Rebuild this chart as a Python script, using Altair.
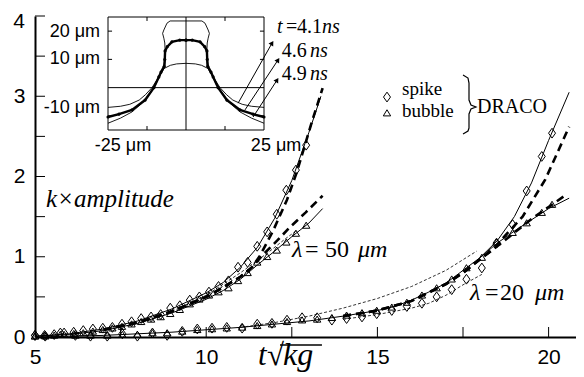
import altair as alt
import pandas as pd

# ---------------- main data (x = t*sqrt(kg), y = k*amplitude) ----------------
# lambda = 50 um : DRACO markers
l50_x = [5.0, 5.28, 5.56, 5.85, 6.13, 6.41, 6.69, 6.98, 7.26, 7.54, 7.82, 8.1, 8.39, 8.67, 8.95,
         9.23, 9.52, 9.8, 10.08, 10.36, 10.65, 10.93, 11.21, 11.49, 11.78, 12.06, 12.34, 12.62, 12.92]
l50_spike = [0.02, 0.02, 0.03, 0.05, 0.06, 0.08, 0.1, 0.11, 0.12, 0.16, 0.19, 0.23, 0.25, 0.28, 0.36,
             0.39, 0.46, 0.5, 0.56, 0.63, 0.7, 0.87, 0.93, 1.13, 1.31, 1.53, 1.83, 2.08, 2.39]
l50_bubble = [0.01, 0.02, 0.02, 0.03, 0.04, 0.05, 0.07, 0.09, 0.11, 0.13, 0.16, 0.19, 0.22, 0.25, 0.29,
              0.34, 0.41, 0.47, 0.52, 0.56, 0.61, 0.7, 0.8, 0.93, 1.0, 1.08, 1.18, 1.29, 1.39]
# lambda = 50 um : model curves
l50_spike_solid_x = [5, 6, 7, 8, 9, 10, 10.5, 11, 11.5, 12, 12.5, 13, 13.35]
l50_spike_solid_y = [0.01, 0.04, 0.1, 0.2, 0.35, 0.55, 0.68, 0.87, 1.12, 1.48, 1.95, 2.55, 3.0]
l50_spike_dash_x = [7, 8, 9, 10, 10.5, 11, 11.34, 11.58, 11.95, 12.36, 12.65, 13.1, 13.4]
l50_spike_dash_y = [0.09, 0.18, 0.32, 0.5, 0.62, 0.75, 0.87, 1.02, 1.32, 1.71, 2.06, 2.7, 3.1]
l50_bubble_solid_x = [5, 6, 7, 8, 9, 10, 10.5, 11, 11.5, 12, 12.5, 13, 13.4]
l50_bubble_solid_y = [0.01, 0.03, 0.08, 0.17, 0.3, 0.47, 0.58, 0.72, 0.9, 1.07, 1.25, 1.42, 1.6]
l50_bubble_dash_x = [7, 8, 9, 10, 10.5, 11, 11.34, 11.67, 12.07, 12.45, 12.9, 13.4]
l50_bubble_dash_y = [0.09, 0.18, 0.32, 0.5, 0.62, 0.75, 0.87, 1.03, 1.2, 1.37, 1.55, 1.76]
l50_thin_x = [9, 10, 11, 11.8, 12.3, 12.65]
l50_thin_y = [0.32, 0.52, 0.8, 1.05, 1.22, 1.33]

# lambda = 20 um : DRACO markers
l20_x = [5.0, 5.3, 5.74, 6.18, 6.62, 7.11, 7.55, 7.99, 8.43, 8.86, 9.3, 9.74, 10.17, 10.6, 11.05,
         11.49, 11.92, 12.36, 12.8, 13.24, 13.67, 14.1, 14.55, 14.98, 15.42, 15.86, 16.3, 16.73,
         17.17, 17.6, 18.05, 18.48, 18.95, 19.36, 19.8, 20.1]
l20_spike = [0.02, 0.01, 0.05, 0.02, 0.01, 0.01, 0.04, 0.01, 0.05, 0.02, 0.07, 0.1, 0.11, 0.12, 0.11,
             0.16, 0.17, 0.21, 0.24, 0.24, 0.21, 0.23, 0.25, 0.29, 0.33, 0.38, 0.42, 0.5,
             0.59, 0.72, 0.86, 1.17, 1.4, 1.82, 2.25, 2.54]
l20_bubble = [0.01, 0.01, 0.03, 0.02, 0.02, 0.02, 0.03, 0.03, 0.05, 0.05, 0.07, 0.09, 0.1, 0.11, 0.12,
              0.14, 0.16, 0.19, 0.21, 0.22, 0.24, 0.27, 0.3, 0.33, 0.37, 0.43, 0.52, 0.61,
              0.72, 0.86, 0.99, 1.18, 1.3, 1.42, 1.55, 1.65]
# lambda = 20 um : model curves
l20_spike_solid_x = [5, 7, 9, 11, 12, 13, 14, 15, 15.5, 16, 16.5, 17, 17.5, 18, 18.5, 19, 19.5, 20, 20.6]
l20_spike_solid_y = [0.0, 0.02, 0.06, 0.12, 0.16, 0.2, 0.26, 0.33, 0.38, 0.46, 0.56, 0.67, 0.83, 0.99,
                     1.2, 1.5, 1.92, 2.45, 3.05]
l20_bubble_solid_x = [18, 18.5, 19, 19.5, 20, 20.6]
l20_bubble_solid_y = [0.99, 1.17, 1.32, 1.46, 1.6, 1.73]
l20_spike_dash_x = [14, 15, 16, 17, 17.5, 18, 18.4, 18.66, 19.24, 19.9, 20.6]
l20_spike_dash_y = [0.26, 0.33, 0.45, 0.66, 0.8, 0.97, 1.1, 1.23, 1.5, 1.96, 2.62]
l20_bubble_dash_x = [14, 15, 16, 17, 17.5, 18, 18.5, 19, 19.5, 20, 20.5]
l20_bubble_dash_y = [0.26, 0.33, 0.45, 0.66, 0.8, 0.97, 1.13, 1.3, 1.47, 1.62, 1.77]
l20_thin_up_x = [11, 12, 13, 14, 15, 16, 17, 17.9]
l20_thin_up_y = [0.12, 0.18, 0.26, 0.36, 0.48, 0.63, 0.83, 1.07]
l20_thin_lo_x = [14, 15, 16, 16.5, 17, 17.5, 18.05]
l20_thin_lo_y = [0.22, 0.28, 0.36, 0.42, 0.52, 0.65, 0.78]

# axis ticks / labels
x_labels = [5, 10, 15, 20]
x_ticks = [7.5, 10, 12.5, 15, 17.5, 20]
y_labels = [0, 1, 2, 3]
y_top_label = "4"
y_ticks = [0.5, 1, 1.5, 2, 2.5, 3, 3.5, 4]

# ---------------- inset data (um) : right half of symmetric interface ----------------
inset_A_x = [0, 3, 5, 7, 8.7, 10.9, 13, 15, 18, 21, 25]                       # t = 4.1 ns
inset_A_y = [8.6, 8.4, 7.9, 6.8, 3.8, 0, -2.5, -4.4, -5.9, -6.6, -7]
inset_B_x = [0, 2, 4.5, 6, 6.7, 6.8, 7, 8, 8.7, 10.3, 13.1, 17.3, 21.5, 25]    # t = 4.6 ns
inset_B_y = [16.8, 16.8, 16.2, 14.5, 13, 10, 7.5, 5.5, 3.8, 0, -4.4, -7.9, -9.4, -10.4]
inset_C_x = [0, 5.1, 6.1, 7.1, 7.5, 7.1, 6.8, 6.6, 6.8, 8.3, 9.8, 11.4, 14.1, 17.3, 21, 25]  # t = 4.9 ns
inset_C_y = [23.6, 23.6, 22.8, 20.4, 19.2, 17.5, 15.8, 10.9, 7.3, 4.5, 0.9, -1.9, -5.5, -8.6, -10.8, -12.6]
inset_xlim = [-25, 25]
inset_ylim = [-15, 25]
inset_xticks = [-12.5, 12.5]
inset_yticks = [20, 10, -10]
arrow_x1 = [16.7, 18.9, 21.5]
arrow_y1 = [-5.5, -7.9, -10.4]
arrow_x2 = [27.6, 29.5, 29.2]
arrow_y2 = [15.8, 9.8, 2.7]

# ---------------- styling ----------------
SANS = "Liberation Sans"
SERIF = "Liberation Serif"
xs_main = alt.Scale(domain=[5, 20.8], nice=False, zero=False)
ys_main = alt.Scale(domain=[0, 4], nice=False, zero=False)
x_axis = alt.Axis(values=x_labels, ticks=False, grid=False, labelFlush=False, labelFont=SANS,
                  labelFontSize=21, labelColor="black", labelPadding=9, domainColor="black",
                  domainWidth=2, title=None, format="d")
y_axis = alt.Axis(values=y_labels, ticks=False, grid=False, labelFont=SANS, labelFontSize=21,
                  labelColor="black", labelPadding=10, domainColor="black", domainWidth=2,
                  title=None, format="d")


def X(f="x"):
    return alt.X(f + ":Q", scale=xs_main, axis=x_axis)


def Y(f="y"):
    return alt.Y(f + ":Q", scale=ys_main, axis=y_axis)


def line(xv, yv, width, dash=None):
    kw = dict(color="black", strokeWidth=width)
    if dash:
        kw["strokeDash"] = dash
    return alt.Chart(pd.DataFrame({"x": xv, "y": yv})).mark_line(**kw).encode(x=X(), y=Y())


DIAMOND = "M0,-1.4L1,0L0,1.4L-1,0Z"
TRIANGLE = "M0,-0.95L1.05,0.8L-1.05,0.8Z"


def markers(xv, yv, shape):
    return alt.Chart(pd.DataFrame({"x": xv, "y": yv})).mark_point(
        shape=shape, filled=False, stroke="black", strokeWidth=1, size=49, opacity=1
    ).encode(x=X(), y=Y())


def text(xv, yv, label, font=SERIF, size=20, style="normal", align="left", baseline="alphabetic"):
    return alt.Chart(pd.DataFrame({"x": [xv], "y": [yv], "t": [label]})).mark_text(
        font=font, fontSize=size, fontStyle=style, align=align, baseline=baseline, color="black"
    ).encode(x=X(), y=Y(), text="t:N")


THICK = [8, 5]
THIN = [3, 2]

layers = []
# model curves
layers += [
    line(l50_spike_solid_x, l50_spike_solid_y, 1),
    line(l50_bubble_solid_x, l50_bubble_solid_y, 1),
    line(l50_thin_x, l50_thin_y, 0.8, THIN),
    line(l50_spike_dash_x, l50_spike_dash_y, 2.6, THICK),
    line(l50_bubble_dash_x, l50_bubble_dash_y, 2.6, THICK),
    line(l20_spike_solid_x, l20_spike_solid_y, 1),
    line(l20_bubble_solid_x, l20_bubble_solid_y, 1),
    line(l20_thin_up_x, l20_thin_up_y, 0.8, THIN),
    line(l20_thin_lo_x, l20_thin_lo_y, 0.8, THIN),
    line(l20_spike_dash_x, l20_spike_dash_y, 2.6, THICK),
    line(l20_bubble_dash_x, l20_bubble_dash_y, 2.6, THICK),
]
# DRACO markers
layers += [
    markers(l50_x, l50_bubble, TRIANGLE),
    markers(l50_x, l50_spike, DIAMOND),
    markers(l20_x, l20_bubble, TRIANGLE),
    markers(l20_x, l20_spike, DIAMOND),
]
# inward axis ticks
layers.append(alt.Chart(pd.DataFrame({"y": y_ticks})).mark_rule(color="black", strokeWidth=1).encode(
    y=Y(), x=alt.value(0), x2=alt.value(10)))
layers.append(alt.Chart(pd.DataFrame({"x": x_ticks})).mark_rule(color="black", strokeWidth=1).encode(
    x=X(), y=alt.value(321), y2=alt.value(311)))

# annotations
layers += [
    text(4.708, 3.92, y_top_label, font=SANS, size=21, align="right", baseline="middle"),
    text(7.19, 1.62, "k×amplitude", size=25, style="italic", align="center"),
    # lambda = 50 um
    text(12.506, 0.997, "λ", size=24, style="italic"),
    text(12.886, 0.997, "=", size=24),
    text(13.47, 0.997, "50", size=24),
    text(14.433, 0.997, "μm", size=24, style="italic"),
    # lambda = 20 um
    text(17.704, 0.461, "λ", size=24, style="italic"),
    text(18.14, 0.461, "=", size=24),
    text(18.58, 0.461, "20", size=24),
    text(19.60, 0.461, "μm", size=24, style="italic"),
    # x-axis title  t sqrt(kg)
    text(11.513, -0.349, "t", size=31, style="italic"),
    text(11.776, -0.349, "√", size=31),
    text(12.243, -0.349, "kg", size=32, style="italic"),
    # inset time labels
    text(12.068, 3.788, "t", size=20, style="italic"),
    text(12.33, 3.788, "=", size=20),
    text(12.65, 3.788, "4.1", size=20),
    text(13.38, 3.788, "ns", size=20, style="italic"),
    text(12.21, 3.489, "4.6", size=20),
    text(13.03, 3.489, "ns", size=20, style="italic"),
    text(12.21, 3.202, "4.9", size=20),
    text(13.03, 3.202, "ns", size=20, style="italic"),
    # inset axis labels
    text(6.90, 3.80, "20 μm", font=SANS, size=18, align="right", baseline="middle"),
    text(6.90, 3.464, "10 μm", font=SANS, size=18, align="right", baseline="middle"),
    text(6.90, 2.854, "-10 μm", font=SANS, size=18, align="right", baseline="middle"),
    text(7.57, 2.38, "-25 μm", font=SANS, size=18, align="center", baseline="middle"),
    text(12.04, 2.38, "25 μm", font=SANS, size=18, align="center", baseline="middle"),
    # legend
    text(15.72, 3.016, "spike", size=19),
    text(15.72, 2.74, "bubble", size=19),
    text(17.91, 2.79, "DRACO", size=20),
]
# overline of the square root
layers.append(alt.Chart(pd.DataFrame({"x": [12.155], "x2": [13.38], "y": [-0.0997]})).mark_rule(
    color="black", strokeWidth=1.5).encode(x=X(), x2="x2:Q", y=Y()))
# legend symbols
layers.append(markers([15.28], [2.99], DIAMOND))
layers.append(markers([15.28], [2.79], TRIANGLE))
# brace
brace_x = [17.50, 17.646, 17.675, 17.675, 17.733, 17.88, 17.733, 17.675, 17.675, 17.646, 17.50]
brace_y = [3.265, 3.227, 3.165, 2.953, 2.891, 2.866, 2.841, 2.779, 2.604, 2.567, 2.530]
layers.append(alt.Chart(pd.DataFrame({"x": brace_x, "y": brace_y, "o": list(range(len(brace_x)))}))
              .mark_line(color="black", strokeWidth=1.2).encode(x=X(), y=Y(), order="o:Q"))

main = alt.layer(*layers)

# ---------------- inset ----------------
xs_in = alt.Scale(domain=inset_xlim, range=[73, 229], nice=False, zero=False)
ys_in = alt.Scale(domain=inset_ylim, range=[114, 1], nice=False, zero=False)


def XI(f="x"):
    return alt.X(f + ":Q", scale=xs_in, axis=None)


def YI(f="y"):
    return alt.Y(f + ":Q", scale=ys_in, axis=None)


def mirror(xv, yv):
    xx = [-v for v in reversed(xv)] + list(xv)
    yy = list(reversed(yv)) + list(yv)
    return pd.DataFrame({"x": xx, "y": yy, "o": list(range(len(xx)))})


inset_layers = []
frame = pd.DataFrame({"x": [inset_xlim[0]], "x2": [inset_xlim[1]], "y": [inset_ylim[0]], "y2": [inset_ylim[1]]})
inset_layers.append(alt.Chart(frame).mark_rect(fill="white", stroke="black", strokeWidth=1).encode(
    x=XI(), x2="x2:Q", y=YI(), y2="y2:Q"))
zero_lines = pd.DataFrame({"x": [inset_xlim[0], 0], "x2": [inset_xlim[1], 0],
                           "y": [0, inset_ylim[0]], "y2": [0, inset_ylim[1]]})
inset_layers.append(alt.Chart(zero_lines).mark_rule(color="black", strokeWidth=1).encode(
    x=XI(), x2="x2:Q", y=YI(), y2="y2:Q"))
tk = []
for v in inset_xticks:
    tk.append((v, v, inset_ylim[1], inset_ylim[1] - 1.4))
    tk.append((v, v, inset_ylim[0], inset_ylim[0] + 1.4))
for v in inset_yticks:
    tk.append((inset_xlim[0], inset_xlim[0] + 1.3, v, v))
    tk.append((inset_xlim[1], inset_xlim[1] - 1.3, v, v))
tk_df = pd.DataFrame(tk, columns=["x", "x2", "y", "y2"])
inset_layers.append(alt.Chart(tk_df).mark_rule(color="black", strokeWidth=1).encode(
    x=XI(), x2="x2:Q", y=YI(), y2="y2:Q"))
inset_layers.append(alt.Chart(mirror(inset_A_x, inset_A_y)).mark_line(color="black", strokeWidth=0.9).encode(
    x=XI(), y=YI(), order="o:Q"))
inset_layers.append(alt.Chart(mirror(inset_C_x, inset_C_y)).mark_line(color="black", strokeWidth=0.9).encode(
    x=XI(), y=YI(), order="o:Q"))
inset_layers.append(alt.Chart(mirror(inset_B_x, inset_B_y)).mark_line(color="black", strokeWidth=2.4).encode(
    x=XI(), y=YI(), order="o:Q"))
inset_layers.append(alt.Chart(mirror(inset_B_x, inset_B_y)).mark_point(filled=True, color="black", size=10, opacity=1).encode(
    x=XI(), y=YI()))
arrows = pd.DataFrame({"x": arrow_x1, "y": arrow_y1, "x2": arrow_x2, "y2": arrow_y2})
inset_layers.append(alt.Chart(arrows).mark_rule(color="black", strokeWidth=1).encode(
    x=XI(), y=YI(), x2="x2:Q", y2="y2:Q"))
inset_layers.append(alt.Chart(arrows).mark_point(shape="triangle-up", filled=True, color="black", size=30,
                                                 angle=32, opacity=1).encode(x=XI("x2"), y=YI("y2")))

inset = alt.layer(*inset_layers)

chart = alt.layer(main, inset).resolve_scale(x="independent", y="independent").properties(
    width=541, height=321,
    padding={"left": 27, "top": 8, "right": 0, "bottom": 38},
    autosize=alt.AutoSizeParams(type="none"),
    background="white",
).configure_view(stroke=None)

chart.save("out.html", embed_options={"renderer": "svg", "actions": False})
